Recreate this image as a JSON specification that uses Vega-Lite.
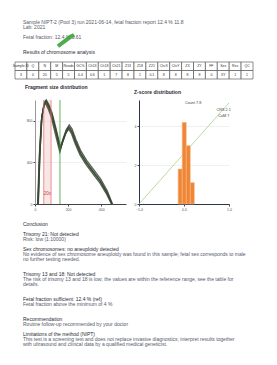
{
  "$schema": "https://vega.github.io/schema/vega-lite/v6.json",
  "background": "white",
  "padding": {"left": 12, "top": 19, "right": 10, "bottom": 5},
  "align": "none",
  "center": false,
  "config": {
    "view": {"stroke": null},
    "font": "Liberation Sans",
    "concat": {"spacing": 5},
    "axis": {"labelFontSize": 3.5, "labelColor": "#555", "domainColor": "#444", "tickColor": "#444", "tickSize": 2, "labelPadding": 1, "gridColor": "#f0f0f0", "labelOverlap": false, "labelFlush": false, "title": null}
  },
  "datasets": {
    "header": [
      {"line": 0, "kind": "body", "text": "Sample NIPT-2 (Pool 3) run 2021-06-14, fetal fraction report 12.4 % 11.8"},
      {"line": 1, "kind": "body", "text": "Lab: 2021"},
      {"line": 3, "kind": "body", "text": "Fetal fraction:  12.4 %  3.61"},
      {"line": 6, "kind": "heading", "text": "Results of chromosome analysis"}
    ],
    "table": [
      {"row": "h", "col": 1, "text": "Sample ID"}, {"row": "h", "col": 2, "text": "Q"}, {"row": "h", "col": 3, "text": "N"}, {"row": "h", "col": 4, "text": "M"},
      {"row": "h", "col": 5, "text": "Reads"}, {"row": "h", "col": 6, "text": "GC%"}, {"row": "h", "col": 7, "text": "Ch13"}, {"row": "h", "col": 8, "text": "Ch18"},
      {"row": "h", "col": 9, "text": "Ch21"}, {"row": "h", "col": 10, "text": "Z13"}, {"row": "h", "col": 11, "text": "Z18"}, {"row": "h", "col": 12, "text": "Z21"},
      {"row": "h", "col": 13, "text": "ChrX"}, {"row": "h", "col": 14, "text": "ChrY"}, {"row": "h", "col": 15, "text": "ZX"}, {"row": "h", "col": 16, "text": "ZY"},
      {"row": "h", "col": 17, "text": "FF"}, {"row": "h", "col": 18, "text": "Sex"}, {"row": "h", "col": 19, "text": "Res"}, {"row": "h", "col": 20, "text": "QC"},
      {"row": "v", "col": 1, "text": "3"}, {"row": "v", "col": 2, "text": "0"}, {"row": "v", "col": 3, "text": "20"}, {"row": "v", "col": 4, "text": "5"},
      {"row": "v", "col": 5, "text": "5"}, {"row": "v", "col": 6, "text": "0.4"}, {"row": "v", "col": 7, "text": "0.6"}, {"row": "v", "col": 8, "text": "1"},
      {"row": "v", "col": 9, "text": "7"}, {"row": "v", "col": 10, "text": "8"}, {"row": "v", "col": 11, "text": "1"}, {"row": "v", "col": 12, "text": "0.1"},
      {"row": "v", "col": 13, "text": "8"}, {"row": "v", "col": 14, "text": "8"}, {"row": "v", "col": 15, "text": "8"}, {"row": "v", "col": 16, "text": "8"},
      {"row": "v", "col": 17, "text": "0"}, {"row": "v", "col": 18, "text": "XY"}, {"row": "v", "col": 19, "text": "1"}, {"row": "v", "col": 20, "text": "1"}
    ],
    "curves": [
      {"s": "A", "size": 18, "count": 0}, {"s": "A", "size": 28, "count": 480}, {"s": "A", "size": 40, "count": 820}, {"s": "A", "size": 55, "count": 960},
      {"s": "A", "size": 66, "count": 985}, {"s": "A", "size": 82, "count": 935}, {"s": "A", "size": 100, "count": 860}, {"s": "A", "size": 125, "count": 700},
      {"s": "A", "size": 152, "count": 520}, {"s": "A", "size": 168, "count": 610}, {"s": "A", "size": 188, "count": 700}, {"s": "A", "size": 205, "count": 740},
      {"s": "A", "size": 222, "count": 700}, {"s": "A", "size": 245, "count": 600}, {"s": "A", "size": 275, "count": 490}, {"s": "A", "size": 310, "count": 400},
      {"s": "A", "size": 350, "count": 315}, {"s": "A", "size": 395, "count": 220}, {"s": "A", "size": 435, "count": 110}, {"s": "A", "size": 465, "count": 0},
      {"s": "B", "size": 20, "count": 0}, {"s": "B", "size": 30, "count": 500}, {"s": "B", "size": 42, "count": 845}, {"s": "B", "size": 57, "count": 980},
      {"s": "B", "size": 68, "count": 1000}, {"s": "B", "size": 84, "count": 955}, {"s": "B", "size": 102, "count": 880}, {"s": "B", "size": 127, "count": 725},
      {"s": "B", "size": 154, "count": 545}, {"s": "B", "size": 170, "count": 628}, {"s": "B", "size": 190, "count": 718}, {"s": "B", "size": 207, "count": 760},
      {"s": "B", "size": 224, "count": 720}, {"s": "B", "size": 247, "count": 620}, {"s": "B", "size": 277, "count": 510}, {"s": "B", "size": 312, "count": 420},
      {"s": "B", "size": 352, "count": 335}, {"s": "B", "size": 397, "count": 240}, {"s": "B", "size": 437, "count": 125}, {"s": "B", "size": 468, "count": 0},
      {"s": "C", "size": 16, "count": 0}, {"s": "C", "size": 26, "count": 455}, {"s": "C", "size": 38, "count": 795}, {"s": "C", "size": 53, "count": 940},
      {"s": "C", "size": 64, "count": 970}, {"s": "C", "size": 80, "count": 915}, {"s": "C", "size": 98, "count": 840}, {"s": "C", "size": 123, "count": 675},
      {"s": "C", "size": 150, "count": 500}, {"s": "C", "size": 166, "count": 590}, {"s": "C", "size": 186, "count": 680}, {"s": "C", "size": 203, "count": 720},
      {"s": "C", "size": 220, "count": 680}, {"s": "C", "size": 243, "count": 580}, {"s": "C", "size": 273, "count": 470}, {"s": "C", "size": 308, "count": 380},
      {"s": "C", "size": 348, "count": 295}, {"s": "C", "size": 393, "count": 200}, {"s": "C", "size": 433, "count": 95}, {"s": "C", "size": 462, "count": 0},
      {"s": "D", "size": 19, "count": 0}, {"s": "D", "size": 29, "count": 470}, {"s": "D", "size": 41, "count": 830}, {"s": "D", "size": 56, "count": 955},
      {"s": "D", "size": 67, "count": 990}, {"s": "D", "size": 83, "count": 945}, {"s": "D", "size": 101, "count": 870}, {"s": "D", "size": 126, "count": 710},
      {"s": "D", "size": 153, "count": 532}, {"s": "D", "size": 169, "count": 605}, {"s": "D", "size": 189, "count": 695}, {"s": "D", "size": 206, "count": 735},
      {"s": "D", "size": 223, "count": 695}, {"s": "D", "size": 246, "count": 595}, {"s": "D", "size": 276, "count": 485}, {"s": "D", "size": 311, "count": 395},
      {"s": "D", "size": 351, "count": 310}, {"s": "D", "size": 396, "count": 215}, {"s": "D", "size": 436, "count": 105}, {"s": "D", "size": 466, "count": 0}
    ],
    "cutoffs": [
      {"size": 53, "kind": "lower"},
      {"size": 97, "kind": "upper"},
      {"size": 151, "kind": "cut"}
    ],
    "window": [
      {"from": 53, "to": 97}
    ],
    "bars": [
      {"lo": -0.13, "hi": -0.04, "n": 1.8},
      {"lo": -0.04, "hi": 0.05, "n": 4.2},
      {"lo": 0.05, "hi": 0.14, "n": 3.0},
      {"lo": 0.14, "hi": 0.23, "n": 1.1}
    ],
    "diag": [
      {"z": -1, "n": 0},
      {"z": 1, "n": 5.2}
    ],
    "body": [
      {"line": 0, "kind": "heading", "text": "Conclusion"},
      {"line": 2, "kind": "heading", "text": "Trisomy 21: Not detected"},
      {"line": 3, "kind": "body", "text": "Risk: low (1:10000)"},
      {"line": 5, "kind": "heading", "text": "Sex chromosomes: no aneuploidy detected"},
      {"line": 6, "kind": "body", "text": "No evidence of sex chromosome aneuploidy was found in this sample; fetal sex corresponds to male"},
      {"line": 7, "kind": "body", "text": "no further testing needed."},
      {"line": 10, "kind": "heading", "text": "Trisomy 13 and 18: Not detected"},
      {"line": 11, "kind": "body", "text": "The risk of trisomy 13 and 18 is low; the values are within the reference range, see the table for"},
      {"line": 12, "kind": "body", "text": "details."},
      {"line": 15, "kind": "heading", "text": "Fetal fraction sufficient: 12.4 % (ref)"},
      {"line": 16, "kind": "body", "text": "Fetal fraction above the minimum of 4 %"},
      {"line": 19, "kind": "heading", "text": "Recommendation"},
      {"line": 20, "kind": "body", "text": "Routine follow-up recommended by your doctor"},
      {"line": 22, "kind": "heading", "text": "Limitations of the method (NIPT)"},
      {"line": 23, "kind": "body", "text": "This test is a screening test and does not replace invasive diagnostics; interpret results together"},
      {"line": 24, "kind": "body", "text": "with ultrasound and clinical data by a qualified medical geneticist."}
    ]
  },
  "vconcat": [
    {
      "width": 240,
      "height": 36,
      "layer": [
        {
          "data": {"name": "header"},
          "mark": {"type": "text", "align": "left", "baseline": "middle", "fontSize": 5},
          "encoding": {
            "x": {"datum": 0, "type": "quantitative", "scale": {"domain": [0, 240], "range": [-12, 228]}, "axis": null},
            "y": {"field": "line", "type": "quantitative", "scale": {"domain": [-0.5, 6.5], "reverse": true}, "axis": null},
            "text": {"field": "text"},
            "fontWeight": {"condition": {"test": "datum.kind === 'heading'", "value": "bold"}, "value": "normal"},
            "color": {"condition": {"test": "datum.kind === 'heading'", "value": "#2a2a35"}, "value": "#55596a"}
          }
        },
        {
          "data": {"values": [{"mark": "pen"}]},
          "mark": {"type": "point", "shape": "M-1,0.7 L0.6,-0.5 L1,-0.7", "size": 260, "filled": false, "stroke": "#3aa53a", "strokeWidth": 4, "opacity": 0.9},
          "encoding": {
            "x": {"datum": 43, "type": "quantitative"},
            "y": {"datum": 3.7, "type": "quantitative"}
          }
        }
      ]
    },
    {
      "width": 238,
      "height": 17,
      "data": {"name": "table"},
      "encoding": {
        "x": {"field": "col", "type": "ordinal", "scale": {"paddingInner": 0, "paddingOuter": 0, "range": [-20, 218]}, "axis": null},
        "y": {"field": "row", "type": "ordinal", "sort": ["h", "v"], "scale": {"paddingInner": 0, "paddingOuter": 0}, "axis": null}
      },
      "layer": [
        {"mark": {"type": "rect", "fill": "white", "stroke": "#444", "strokeWidth": 0.6}},
        {"mark": {"type": "text", "fontSize": 3.5, "color": "#333"}, "encoding": {"text": {"field": "text"}}}
      ]
    },
    {
      "hconcat": [
        {
          "width": 91,
          "height": 104,
          "title": {"text": "Fragment size distribution", "fontSize": 5, "fontWeight": "bold", "color": "#2a2a35", "anchor": "start", "frame": "group", "offset": 7, "dx": -10},
          "layer": [
            {
              "data": {"name": "window"},
              "mark": {"type": "rect", "color": "#f4b8b8", "opacity": 0.35},
              "encoding": {
                "x": {"field": "from", "type": "quantitative", "scale": {"domain": [0, 550], "nice": false}, "axis": {"values": [0, 50, 100, 150, 200, 250, 300, 350, 400, 450, 500, 550], "grid": false, "labelOverlap": false}},
                "x2": {"field": "to"}
              }
            },
            {
              "data": {"name": "curves"},
              "mark": {"type": "line", "strokeWidth": 1.4, "color": "#3b4634", "opacity": 0.85},
              "encoding": {
                "x": {"field": "size", "type": "quantitative"},
                "y": {"field": "count", "type": "quantitative", "scale": {"domain": [0, 1000], "nice": false}, "axis": {"values": [0, 100, 200, 300, 400, 500, 600, 700, 800, 900, 1000], "grid": true, "minExtent": 20, "domainColor": "#999", "labelOverlap": false}},
                "detail": {"field": "s"}
              }
            },
            {
              "data": {"name": "cutoffs"},
              "mark": {"type": "rule", "strokeWidth": 0.8},
              "encoding": {
                "x": {"field": "size", "type": "quantitative"},
                "color": {"field": "kind", "type": "nominal", "scale": {"domain": ["lower", "upper", "cut"], "range": ["#e07a7a", "#e07a7a", "#3aa03a"]}, "legend": null}
              }
            },
            {
              "data": {"values": [{"size": 75, "count": 96, "label": "20x"}]},
              "mark": {"type": "text", "fontSize": 4.5, "color": "#d04040"},
              "encoding": {
                "x": {"field": "size", "type": "quantitative"},
                "y": {"field": "count", "type": "quantitative"},
                "text": {"field": "label"}
              }
            }
          ]
        },
        {
          "width": 90,
          "height": 104,
          "title": {"text": "Z-score distribution", "fontSize": 5, "fontWeight": "bold", "color": "#2a2a35", "anchor": "start", "frame": "group", "offset": 5, "dx": -5},
          "layer": [
            {
              "data": {"name": "diag"},
              "mark": {"type": "line", "strokeWidth": 0.8, "color": "#a9d18e"},
              "encoding": {
                "x": {"field": "z", "type": "quantitative", "scale": {"domain": [-1, 1], "nice": false}, "axis": {"values": [-1, -0.5, 0, 0.5, 1], "grid": false, "domainColor": "#2b3350", "domainWidth": 1, "labelOverlap": false}},
                "y": {"field": "n", "type": "quantitative", "scale": {"domain": [0, 5.35], "nice": false}, "axis": {"values": [0, 1, 2, 3, 4, 5], "grid": true, "minExtent": 8, "domainColor": "#2b3350", "domainWidth": 1, "labelOverlap": false}}
              }
            },
            {
              "data": {"name": "bars"},
              "mark": {"type": "rect", "fill": "#f08534", "stroke": "#f6b98a", "strokeWidth": 0.6},
              "encoding": {
                "x": {"field": "lo", "type": "quantitative"},
                "x2": {"field": "hi"},
                "y": {"field": "n", "type": "quantitative"},
                "y2": {"datum": 0}
              }
            },
            {
              "data": {"values": [{"z": 0.72, "n": 4.85, "label": "CRS 2.1"}, {"z": 0.76, "n": 4.55, "label": "CoM 7"}, {"z": 0.02, "n": 5.2, "label": "Count 7.8"}]},
              "mark": {"type": "text", "fontSize": 3.8, "color": "#444", "align": "left"},
              "encoding": {
                "x": {"field": "z", "type": "quantitative"},
                "y": {"field": "n", "type": "quantitative"},
                "text": {"field": "label"}
              }
            }
          ]
        }
      ]
    },
    {
      "width": 240,
      "height": 130,
      "data": {"name": "body"},
      "mark": {"type": "text", "align": "left", "baseline": "middle", "fontSize": 5},
      "encoding": {
        "x": {"datum": 0, "type": "quantitative", "scale": {"domain": [0, 240], "range": [-12, 228]}, "axis": null},
        "y": {"field": "line", "type": "quantitative", "scale": {"domain": [-1.5, 24.5], "reverse": true}, "axis": null},
        "text": {"field": "text"},
        "fontWeight": {"condition": {"test": "datum.kind === 'heading'", "value": "bold"}, "value": "normal"},
        "color": {"condition": {"test": "datum.kind === 'heading'", "value": "#2a2a35"}, "value": "#55596a"}
      }
    }
  ]
}
